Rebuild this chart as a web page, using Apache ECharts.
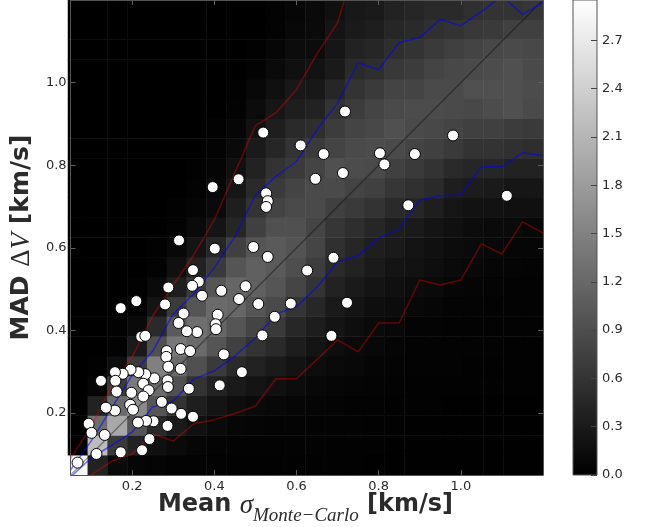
<!DOCTYPE html>
<html>
<head>
<meta charset="utf-8">
<script src="https://cdn.jsdelivr.net/npm/echarts@6/dist/echarts.min.js"></script>
<style>
  html, body { margin: 0; padding: 0; background: #ffffff; }
  #chart { width: 645px; height: 527px; }
</style>
</head>
<body>
<div id="chart"></div>
<script>
// ---- Histogram of MAD ΔV vs. mean σ (24 x 24 bins, 0.05–1.20 km/s) ----
const binEdges = [0.050, 0.098, 0.146, 0.194, 0.242, 0.290, 0.338, 0.385, 0.433,
                  0.481, 0.529, 0.577, 0.625, 0.673, 0.721, 0.769, 0.817, 0.865,
                  0.913, 0.960, 1.008, 1.056, 1.104, 1.152, 1.200];

// Density per x-bin (column), listed from the lowest y-bin upwards
const densityCol00 = [2.89,0,0,0,0,0,0,0,0,0,0,0,0,0,0,0,0,0,0,0,0,0,0,0];
const densityCol01 = [0.39,2.17,1.27,0.39,0.07,0.02,0,0,0,0,0,0,0,0,0,0,0,0,0,0,0,0,0,0];
const densityCol02 = [0.12,0.67,1.94,1.23,0.67,0.16,0.04,0.02,0,0,0,0,0,0,0,0,0,0,0,0,0,0,0,0];
const densityCol03 = [0.07,0.39,0.98,1.60,1.41,0.67,0.30,0.12,0.04,0.02,0,0,0,0,0,0,0,0,0,0,0,0,0,0];
const densityCol04 = [0.06,0.19,0.49,0.98,1.23,1.48,0.93,0.49,0.23,0.12,0.04,0.02,0,0,0,0,0,0,0,0,0,0,0,0];
const densityCol05 = [0.03,0.12,0.30,0.59,0.93,1.23,1.38,1.04,0.67,0.35,0.19,0.09,0.04,0.02,0,0,0,0,0,0,0,0,0,0];
const densityCol06 = [0.03,0.07,0.19,0.35,0.59,0.93,1.23,1.27,0.98,0.67,0.39,0.23,0.12,0.06,0.03,0.02,0,0,0,0,0,0,0,0];
const densityCol07 = [0.03,0.05,0.12,0.23,0.39,0.67,0.98,1.18,1.23,0.98,0.67,0.44,0.23,0.12,0.09,0.06,0.03,0.02,0,0,0,0,0,0];
const densityCol08 = [0.02,0.04,0.07,0.16,0.30,0.49,0.74,0.98,1.18,1.18,0.98,0.74,0.44,0.35,0.25,0.19,0.12,0.07,0.03,0.02,0,0,0,0];
const densityCol09 = [0.02,0.03,0.06,0.12,0.23,0.39,0.59,0.79,0.98,1.11,1.11,0.98,0.74,0.59,0.49,0.39,0.30,0.21,0.14,0.09,0.04,0.02,0,0];
const densityCol10 = [0.02,0.03,0.05,0.09,0.19,0.30,0.49,0.67,0.86,0.98,1.04,1.04,0.93,0.79,0.67,0.59,0.44,0.35,0.25,0.19,0.12,0.07,0.04,0.03];
const densityCol11 = [0.02,0.03,0.05,0.07,0.14,0.22,0.33,0.45,0.60,0.80,0.90,0.96,0.93,0.86,0.79,0.67,0.59,0.49,0.35,0.28,0.19,0.14,0.09,0.07];
const densityCol12 = [0.02,0.03,0.04,0.06,0.09,0.15,0.23,0.33,0.45,0.60,0.70,0.80,0.80,0.86,0.86,0.79,0.67,0.53,0.39,0.28,0.21,0.14,0.12,0.12];
const densityCol13 = [0.02,0.02,0.03,0.05,0.07,0.12,0.16,0.23,0.30,0.39,0.49,0.56,0.62,0.74,0.86,0.93,0.79,0.69,0.59,0.44,0.30,0.25,0.23,0.19];
const densityCol14 = [0.02,0.02,0.03,0.04,0.06,0.09,0.12,0.16,0.23,0.30,0.39,0.44,0.53,0.67,0.79,0.88,0.86,0.79,0.69,0.59,0.49,0.39,0.30,0.28];
const densityCol15 = [0.01,0.02,0.02,0.03,0.05,0.06,0.09,0.12,0.16,0.23,0.30,0.35,0.44,0.59,0.74,0.86,0.88,0.83,0.79,0.67,0.53,0.44,0.35,0.30];
const densityCol16 = [0.01,0.01,0.02,0.02,0.03,0.05,0.06,0.09,0.14,0.19,0.23,0.30,0.35,0.49,0.62,0.74,0.86,0.93,0.86,0.79,0.65,0.53,0.44,0.39];
const densityCol17 = [0.01,0.01,0.01,0.02,0.02,0.03,0.04,0.05,0.09,0.14,0.21,0.23,0.30,0.44,0.56,0.67,0.79,0.86,0.88,0.79,0.69,0.59,0.49,0.44];
const densityCol18 = [0.01,0.01,0.01,0.02,0.02,0.03,0.03,0.05,0.07,0.12,0.16,0.19,0.23,0.35,0.49,0.59,0.74,0.83,0.88,0.86,0.79,0.67,0.56,0.49];
const densityCol19 = [0.01,0.01,0.01,0.01,0.02,0.03,0.03,0.04,0.05,0.07,0.12,0.14,0.19,0.25,0.35,0.49,0.67,0.79,0.86,0.86,0.83,0.74,0.59,0.49];
const densityCol20 = [0.01,0.01,0.01,0.01,0.02,0.02,0.03,0.04,0.05,0.06,0.09,0.12,0.14,0.21,0.32,0.44,0.59,0.74,0.83,0.93,0.86,0.79,0.65,0.56];
const densityCol21 = [0.01,0.01,0.01,0.01,0.02,0.02,0.03,0.04,0.04,0.05,0.07,0.09,0.12,0.21,0.30,0.44,0.59,0.74,0.88,0.93,0.88,0.83,0.67,0.59];
const densityCol22 = [0.01,0.01,0.01,0.01,0.02,0.02,0.02,0.03,0.04,0.04,0.06,0.07,0.12,0.19,0.25,0.39,0.56,0.69,0.93,0.93,0.93,0.86,0.74,0.59];
const densityCol23 = [0.01,0.01,0.01,0.01,0.02,0.02,0.02,0.03,0.03,0.04,0.05,0.07,0.09,0.19,0.25,0.39,0.53,0.67,0.86,0.88,0.86,0.83,0.74,0.62];

const densityColumns = [
  densityCol00, densityCol01, densityCol02, densityCol03, densityCol04, densityCol05,
  densityCol06, densityCol07, densityCol08, densityCol09, densityCol10, densityCol11,
  densityCol12, densityCol13, densityCol14, densityCol15, densityCol16, densityCol17,
  densityCol18, densityCol19, densityCol20, densityCol21, densityCol22, densityCol23
];

// ---- Percentile envelopes of the distribution, sampled every 0.05 km/s ----
const envX       = [0.05,0.10,0.15,0.20,0.25,0.30,0.35,0.40,0.45,0.50,0.55,0.60,
                    0.65,0.70,0.75,0.80,0.85,0.90,0.95,1.00,1.05,1.10,1.15,1.20];
const outerUpper = [0.090,0.166,0.265,0.336,0.435,0.510,0.583,0.668,0.782,0.896,0.927,0.983,
                    1.070,1.145,1.310];
const innerUpper = [0.062,0.132,0.212,0.292,0.350,0.440,0.489,0.552,0.627,0.728,0.773,0.809,
                    0.886,0.951,1.048,1.031,1.097,1.109,1.153,1.138,1.172,1.210,1.165,1.194];
const innerLower = [0.045,0.091,0.122,0.154,0.215,0.229,0.282,0.302,0.338,0.382,0.440,0.457,
                    0.505,0.566,0.581,0.624,0.646,0.716,0.726,0.728,0.796,0.796,0.830,0.823];
const outerLowerX = [0.10,0.15,0.20,0.25,0.30,0.35,0.40,0.45,0.50,0.55,0.60,0.65,
                     0.70,0.75,0.80,0.85,0.90,0.95,1.00,1.05,1.10,1.15,1.20];
const outerLower  = [0.050,0.083,0.101,0.150,0.132,0.174,0.184,0.199,0.217,0.283,0.283,0.330,
                     0.377,0.348,0.418,0.418,0.522,0.510,0.522,0.610,0.585,0.663,0.636];
const oneToOne = [0.05, 1.20];

// ---- Individual objects: mean σ (Monte-Carlo) vs. MAD ΔV, km/s ----
const objSigma = [0.519,0.610,0.396,0.459,0.526,0.530,0.526,0.314,0.718,0.666,0.646,0.713,
                  0.803,0.814,0.888,0.981,0.872,1.112,0.690,0.626,0.723,0.685,0.401,0.495,
                  0.530,0.348,0.362,0.346,0.288,0.370,0.417,0.476,0.460,0.507,0.586,0.547,
                  0.517,0.467,0.423,0.413,0.408,0.403,0.404,0.358,0.333,0.325,0.313,0.280,
                  0.210,0.172,0.222,0.232,0.318,0.341,0.284,0.283,0.288,0.318,0.286,0.287,
                  0.338,0.254,0.232,0.215,0.196,0.177,0.158,0.159,0.124,0.227,0.240,0.227,
                  0.198,0.162,0.195,0.202,0.158,0.136,0.272,0.296,0.319,0.348,0.286,0.252,
                  0.234,0.214,0.242,0.224,0.172,0.094,0.101,0.133,0.113,0.067];
const objMad   = [0.879,0.848,0.747,0.766,0.732,0.713,0.699,0.618,0.930,0.827,0.767,0.781,
                  0.829,0.802,0.827,0.872,0.703,0.726,0.576,0.545,0.467,0.387,0.598,0.602,
                  0.578,0.546,0.518,0.508,0.504,0.484,0.496,0.507,0.476,0.464,0.465,0.433,
                  0.388,0.299,0.342,0.267,0.438,0.415,0.403,0.396,0.398,0.441,0.418,0.463,
                  0.471,0.454,0.385,0.387,0.355,0.350,0.350,0.336,0.312,0.307,0.279,0.263,
                  0.259,0.284,0.294,0.299,0.305,0.295,0.299,0.278,0.278,0.271,0.255,0.240,
                  0.249,0.252,0.220,0.208,0.206,0.213,0.227,0.211,0.198,0.191,0.169,0.180,
                  0.181,0.177,0.137,0.110,0.105,0.174,0.152,0.147,0.101,0.080];

// ---- Axis ticks ----
const xTicks = [0.2, 0.4, 0.6, 0.8, 1.0];
const yTicks = [0.2, 0.4, 0.6, 0.8, 1.0];
const axisMin = 0.05, axisMax = 1.2;
const cbarTicks = [0.0, 0.3, 0.6, 0.9, 1.2, 1.5, 1.8, 2.1, 2.4, 2.7];
const cbarMax = 2.95;

// ---- Build series data ----
const binLabels = binEdges.slice(0, -1).map((lo, k) => lo.toFixed(3) + '–' + binEdges[k + 1].toFixed(3));
const heatData = [];
densityColumns.forEach((col, i) => col.forEach((v, j) => heatData.push([i, j, v])));
const pairs = (xs, ys) => ys.map((y, k) => [xs[k], y]);
const scatterData = objSigma.map((s, k) => [s, objMad[k]]);

const FONT = 'DejaVu Sans';
const MATH = 'Liberation Serif';
const TXT = '#2b2b2b';
const SPINE = '#555555';
const TICK = '#5e5e5e';
const plotRect = { left: 68, top: 0, width: 475, height: 475 };

// ---- x-axis title with a subscripted σ, laid out piece by piece ----
const measureCtx = document.createElement('canvas').getContext('2d');
const widthOf = (font, s) => { measureCtx.font = font; return measureCtx.measureText(s).width; };
const titleParts = [
  { text: 'Mean ',        font: 'bold 24px "DejaVu Sans"',        mid: 504.5 },
  { text: 'σ',            font: 'italic 27px "Liberation Serif"', mid: 505.5 },
  { text: 'Monte−Carlo',  font: 'italic 19px "Liberation Serif"', mid: 515.5 },
  { text: ' [km/s]',      font: 'bold 24px "DejaVu Sans"',        mid: 504.5 }
];
const titleCenter = plotRect.left + plotRect.width / 2;
const titleWidth = titleParts.reduce((w, p) => w + widthOf(p.font, p.text), 0);
let cursor = titleCenter - titleWidth / 2;
const xTitleElements = titleParts.map(p => {
  const el = {
    type: 'text', x: cursor, y: p.mid, silent: true,
    style: { text: p.text, font: p.font, fill: TXT, textAlign: 'left',
             textVerticalAlign: 'middle', verticalAlign: 'middle' }
  };
  cursor += widthOf(p.font, p.text);
  return el;
});

const frameAxis = (extra) => Object.assign({
  type: 'value', gridIndex: 0, min: axisMin, max: axisMax, z: 6,
  splitLine: { show: false },
  axisLine: { show: true, onZero: false, lineStyle: { color: SPINE, width: 1 } }
}, extra);

const chart = echarts.init(document.getElementById('chart'), null, { renderer: 'canvas' });

chart.setOption({
  animation: false,
  backgroundColor: '#ffffff',
  grid: [
    Object.assign({}, plotRect),
    Object.assign({}, plotRect),
    { left: 573, top: 0, width: 24, height: 475, show: true, borderColor: SPINE, borderWidth: 1,
      backgroundColor: 'transparent', z: 10 }
  ],
  graphic: { elements: xTitleElements },
  xAxis: [
    frameAxis({
      position: 'bottom',
      axisTick: { show: true, inside: true, length: 5, customValues: xTicks, lineStyle: { color: TICK } },
      axisLabel: { customValues: xTicks, formatter: v => v.toFixed(1), color: TXT, fontSize: 13,
                   fontFamily: FONT, margin: 5 }
    }),
    frameAxis({
      position: 'top',
      axisTick: { show: true, inside: true, length: 5, customValues: xTicks, lineStyle: { color: TICK } },
      axisLabel: { show: false }
    }),
    { type: 'category', gridIndex: 1, data: binLabels, show: false },
    { type: 'category', gridIndex: 2, data: [''], show: false }
  ],
  yAxis: [
    frameAxis({
      position: 'left',
      axisTick: { show: true, inside: true, length: 5, customValues: yTicks, lineStyle: { color: TICK } },
      axisLabel: { customValues: yTicks, formatter: v => v.toFixed(1), color: TXT, fontSize: 13,
                   fontFamily: FONT, margin: 4 },
      name: '{b|MAD }{m|Δ}{i|V}{b| [km/s]}',
      nameLocation: 'middle', nameGap: 28,
      nameTextStyle: {
        rich: {
          b: { fontFamily: FONT, fontWeight: 'bold', fontSize: 25, color: TXT, lineHeight: 30 },
          m: { fontFamily: MATH, fontSize: 27, color: TXT, lineHeight: 30 },
          i: { fontFamily: MATH, fontStyle: 'italic', fontSize: 27, color: TXT, lineHeight: 30 }
        }
      }
    }),
    frameAxis({
      position: 'right',
      axisTick: { show: true, inside: true, length: 5, customValues: yTicks, lineStyle: { color: TICK } },
      axisLabel: { show: false }
    }),
    { type: 'category', gridIndex: 1, data: binLabels, show: false },
    {
      type: 'value', gridIndex: 2, min: 0, max: cbarMax, position: 'right', z: 11,
      splitLine: { show: false },
      axisLine: { show: false },
      axisTick: { show: true, inside: true, length: 6, customValues: cbarTicks, lineStyle: { color: '#444' } },
      axisLabel: { customValues: cbarTicks, formatter: v => v.toFixed(1), color: TXT, fontSize: 13,
                   fontFamily: FONT, margin: 5 }
    }
  ],
  visualMap: {
    type: 'continuous', show: false, seriesIndex: 0, dimension: 2,
    min: 0, max: cbarMax, inRange: { color: ['#000000', '#ffffff'] }
  },
  series: [
    {
      type: 'heatmap', xAxisIndex: 2, yAxisIndex: 2, data: heatData, z: 1, silent: true,
      itemStyle: { borderWidth: 0 }
    },
    {
      type: 'bar', xAxisIndex: 3, yAxisIndex: 3, data: [cbarMax], barWidth: '100%', silent: true,
      itemStyle: {
        color: new echarts.graphic.LinearGradient(0, 0, 0, 1, [
          { offset: 0, color: '#ffffff' }, { offset: 1, color: '#000000' }
        ])
      }
    },
    {
      type: 'line', xAxisIndex: 0, yAxisIndex: 0, data: pairs(oneToOne, oneToOne), symbol: 'none',
      z: 3, silent: true, lineStyle: { color: 'rgba(0,0,0,0.4)', width: 1.2 }
    },
    {
      type: 'line', xAxisIndex: 0, yAxisIndex: 0, data: pairs(envX, outerUpper), symbol: 'none',
      z: 3, silent: true, lineStyle: { color: 'rgba(255,0,0,0.36)', width: 1.5 }
    },
    {
      type: 'line', xAxisIndex: 0, yAxisIndex: 0, data: pairs(outerLowerX, outerLower), symbol: 'none',
      z: 3, silent: true, lineStyle: { color: 'rgba(255,0,0,0.36)', width: 1.5 }
    },
    {
      type: 'line', xAxisIndex: 0, yAxisIndex: 0, data: pairs(envX, innerUpper), symbol: 'none',
      z: 3, silent: true, lineStyle: { color: 'rgba(0,0,255,0.55)', width: 1.5 }
    },
    {
      type: 'line', xAxisIndex: 0, yAxisIndex: 0, data: pairs(envX, innerLower), symbol: 'none',
      z: 3, silent: true, lineStyle: { color: 'rgba(0,0,255,0.55)', width: 1.5 }
    },
    {
      type: 'scatter', xAxisIndex: 0, yAxisIndex: 0, data: scatterData, symbol: 'circle', symbolSize: 11,
      z: 4, silent: true,
      itemStyle: { color: '#ffffff', borderColor: '#000000', borderWidth: 1, opacity: 1 }
    }
  ]
});
</script>
</body>
</html>
